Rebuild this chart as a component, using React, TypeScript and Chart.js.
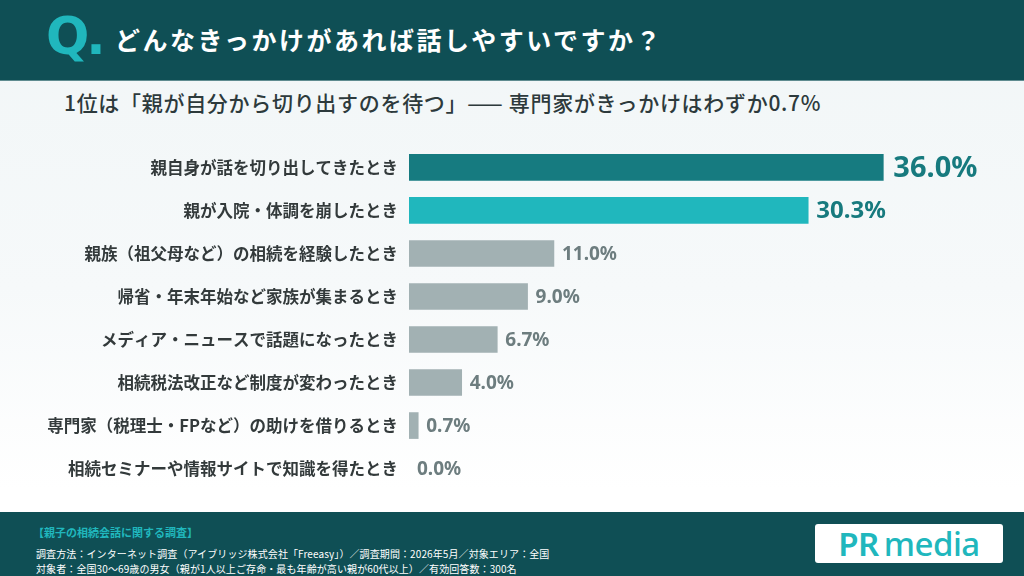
import React, { useEffect, useRef } from "react";
import { Chart, registerables } from "chart.js";

Chart.register(...registerables);

const categories = [
  "親自身が話を切り出してきたとき",
  "親が入院・体調を崩したとき",
  "親族（祖父母など）の相続を経験したとき",
  "帰省・年末年始など家族が集まるとき",
  "メディア・ニュースで話題になったとき",
  "相続税法改正など制度が変わったとき",
  "専門家（税理士・FPなど）の助けを借りるとき",
  "相続セミナーや情報サイトで知識を得たとき",
];
const values = [36.0, 30.3, 11.0, 9.0, 6.7, 4.0, 0.7, 0.0];
const barColors = ["#167b80", "#20b7bd", "#a2b1b3", "#a2b1b3", "#a2b1b3", "#a2b1b3", "#a2b1b3", "#a2b1b3"];

const titleText = "どんなきっかけがあれば話しやすいですか？";
const subtitleText = "1位は「親が自分から切り出すのを待つ」—— 専門家がきっかけはわずか0.7%";
const footerTitle = "【親子の相続会話に関する調査】";
const footerLine1 = "調査方法：インターネット調査（アイブリッジ株式会社「Freeasy」）／調査期間：2026年5月／対象エリア：全国";
const footerLine2 = "対象者：全国30〜69歳の男女（親が1人以上ご存命・最も年齢が高い親が60代以上）／有効回答数：300名";

const JP = "'Noto Sans CJK JP', 'Noto Sans', sans-serif";
const NUM = "'Noto Sans', 'DejaVu Sans', sans-serif";

const valueLabelPlugin = {
  id: "valueLabels",
  afterDatasetsDraw(chart: any) {
    const ctx = chart.ctx;
    const meta = chart.getDatasetMeta(0);
    ctx.save();
    meta.data.forEach((bar: any, i: number) => {
      const v = values[i];
      let size = 19;
      let color = "#6d7d7f";
      if (i === 0) {
        size = 29;
        color = "#177a7e";
      } else if (i === 1) {
        size = 24;
        color = "#177a7e";
      }
      ctx.font = `bold ${size}px ${NUM}`;
      ctx.fillStyle = color;
      ctx.textAlign = "left";
      ctx.textBaseline = "middle";
      const gap = i === 0 ? 10 : 8;
      ctx.fillText(v.toFixed(1) + "%", bar.x + gap, bar.y + 1);
    });
    ctx.restore();
  },
};

export default function App() {
  const canvasRef = useRef<HTMLCanvasElement | null>(null);

  useEffect(() => {
    if (!canvasRef.current) return;
    const chart = new Chart(canvasRef.current, {
      type: "bar",
      data: {
        labels: categories,
        datasets: [
          {
            data: values,
            backgroundColor: (c: any) => (values[c.dataIndex] === 0 ? "rgba(0,0,0,0)" : barColors[c.dataIndex]),
            borderWidth: 0,
            barThickness: 26,
          },
        ],
      },
      options: {
        indexAxis: "y",
        animation: false,
        responsive: true,
        maintainAspectRatio: false,
        layout: { padding: { top: 1, bottom: 1, left: 0, right: 88 } },
        plugins: {
          legend: { display: false },
          tooltip: { enabled: false },
        },
        scales: {
          x: {
            display: false,
            min: 0,
            max: 40,
          },
          y: {
            grid: { display: false, drawTicks: false },
            border: { display: false },
            ticks: {
              color: "#333a3b",
              padding: 11,
              font: { family: JP, size: 16.5, weight: "bold" },
            },
            afterFit: (scale: any) => {
              scale.width = 409;
            },
          },
        },
      },
      plugins: [valueLabelPlugin],
    });
    return () => chart.destroy();
  }, []);

  return (
    <div
      style={{
        position: "fixed",
        left: 0,
        top: 0,
        width: 1024,
        height: 576,
        overflow: "hidden",
        background: "linear-gradient(180deg, #f1f6f7 0%, #f6f9fa 50%, #ffffff 85%)",
        fontFamily: JP,
      }}
    >
      <div
        style={{
          position: "absolute",
          left: 0,
          top: 0,
          width: 1024,
          height: 80,
          background: "#0f4f55",
          borderBottom: "1px solid #5f8c90",
        }}
      />
      <div
        style={{
          position: "absolute",
          left: 46,
          top: 11,
          fontFamily: "'DejaVu Sans', sans-serif",
          fontWeight: 700,
          fontSize: 51,
          lineHeight: "51px",
          color: "#20b7bd",
          letterSpacing: -3,
        }}
      >
        Q.
      </div>
      <div
        style={{
          position: "absolute",
          left: 115,
          top: 24,
          fontWeight: 700,
          fontSize: 25,
          lineHeight: "30px",
          color: "#ffffff",
          letterSpacing: 2.5,
          whiteSpace: "nowrap",
        }}
      >
        {titleText}
      </div>
      <div
        style={{
          position: "absolute",
          left: 64,
          top: 89,
          fontWeight: 500,
          fontSize: 21,
          lineHeight: "26px",
          color: "#2d3a3c",
          letterSpacing: 0.7,
          whiteSpace: "nowrap",
        }}
      >
        {subtitleText}
      </div>
      <div style={{ position: "absolute", left: 0, top: 125, width: 1024, height: 386 }}>
        <canvas ref={canvasRef} />
      </div>
      <div
        style={{
          position: "absolute",
          left: 0,
          top: 512,
          width: 1024,
          height: 64,
          background: "#0f4f55",
        }}
      />
      <div
        style={{
          position: "absolute",
          left: 33,
          top: 524,
          fontWeight: 700,
          fontSize: 11,
          lineHeight: "16px",
          color: "#20b7bd",
          whiteSpace: "nowrap",
        }}
      >
        {footerTitle}
      </div>
      <div
        style={{
          position: "absolute",
          left: 36,
          top: 546,
          fontSize: 10,
          lineHeight: "15px",
          color: "#ffffff",
          letterSpacing: 0.1,
          whiteSpace: "nowrap",
        }}
      >
        {footerLine1}
      </div>
      <div
        style={{
          position: "absolute",
          left: 36,
          top: 561,
          fontSize: 10,
          lineHeight: "15px",
          color: "#ffffff",
          letterSpacing: 0.1,
          whiteSpace: "nowrap",
        }}
      >
        {footerLine2}
      </div>
      <div
        style={{
          position: "absolute",
          left: 815,
          top: 524,
          width: 188,
          height: 39,
          background: "#ffffff",
          borderRadius: 3,
          display: "flex",
          alignItems: "center",
          justifyContent: "center",
          fontFamily: "'Noto Sans', sans-serif",
          color: "#20b7bd",
          fontSize: 33,
          lineHeight: "39px",
          letterSpacing: -0.5,
        }}
      >
        <span style={{ fontWeight: 600 }}>PR</span>
        <span style={{ fontWeight: 500, marginLeft: 5 }}>media</span>
      </div>
    </div>
  );
}
